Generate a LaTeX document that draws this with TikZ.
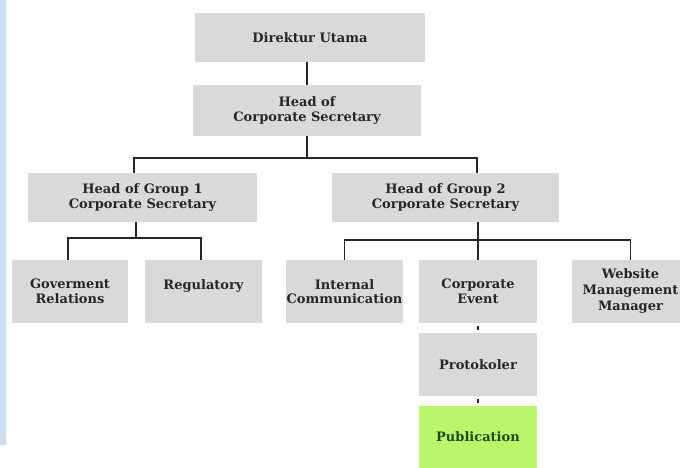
\documentclass[tikz,border=0pt]{standalone}
\usepackage{fontspec}
\setmainfont{DejaVu Serif}
\begin{document}
\begin{tikzpicture}[x=1pt,y=1pt,
  box/.style={draw=none,fill=boxgray,align=center,inner sep=0pt,
    font=\fontsize{13}{14.5}\selectfont\bfseries,text=black!85},
  conn/.style={draw=black!85,line width=1.8pt},
  tick/.style={draw=black!85,line width=1.5pt,shorten <=3pt,shorten >=3pt}]
\definecolor{boxgray}{HTML}{D9D9D9}
\definecolor{pubgreen}{HTML}{B9F66C}
\definecolor{pubtext}{HTML}{1E4A05}
\definecolor{stripblue}{HTML}{CADDF1}
\useasboundingbox (0,0) rectangle (680,-468);
\clip (0,0) rectangle (680,-468);
\fill[stripblue] (0,0) rectangle (6,-445);
% nodes
\node[box,minimum width=230,minimum height=49] (dir) at (310,-37.5) {Direktur Utama};
\node[box,minimum width=228,minimum height=51] (hcs) at (307,-110.5) {Head of\\Corporate Secretary};
\node[box,minimum width=229,minimum height=49] (g1) at (142.5,-197.5) {Head of Group 1\\Corporate Secretary};
\node[box,minimum width=227,minimum height=49] (g2) at (445.5,-197.5) {Head of Group 2\\Corporate Secretary};
\node[box,minimum width=116,minimum height=63] (gov) at (70,-291.5) {Goverment\\Relations};
\node[box,minimum width=117,minimum height=63] (reg) at (203.5,-291.5) {Regulatory\\\mbox{}};
\node[box,minimum width=117,minimum height=63] (ic) at (344.5,-291.5) {Internal\\Communication};
\node[box,minimum width=118,minimum height=63] (ce) at (478,-291.5) {Corporate\\Event};
\node[box,minimum width=117,minimum height=63,font=\fontsize{13}{16}\selectfont\bfseries] (web) at (630.5,-291.5) {Website\\Management\\Manager};
\node[box,minimum width=118,minimum height=63] (prot) at (478,-364.5) {Protokoler};
\node[box,fill=pubgreen,text=pubtext,minimum width=118,minimum height=62] (pub) at (478,-437) {Publication};
% bus coordinates
\coordinate (b0) at (307,-158);
\coordinate (b0l) at (134,-158);
\coordinate (b0r) at (477,-158);
\coordinate (b1) at (136,-238);
\coordinate (b1l) at (68,-238);
\coordinate (b1r) at (201,-238);
\coordinate (b2) at (478,-240);
\coordinate (b2l) at (344.5,-240);
\coordinate (b2r) at (630.5,-240);
% connectors
\draw[conn] (dir.south -| hcs.north) -- (hcs.north);
\draw[conn] (hcs.south) -- (b0);
\draw[conn] (b0l |- g1.north) -- (b0l) -- (b0r) -- (b0r |- g2.north);
\draw[conn] (b1 |- g1.south) -- (b1);
\draw[conn] (b1l |- gov.north) -- (b1l) -- (b1r) -- (b1r |- reg.north);
\draw[conn] (b2 |- g2.south) -- (b2);
\draw[conn] (b2l |- ic.north) -- (b2l) -- (b2r) -- (b2r |- web.north);
\draw[conn] (b2) -- (ce.north);
\draw[tick] (ce.south) -- (prot.north);
\draw[tick] (prot.south) -- (pub.north);
\end{tikzpicture}
\end{document}
